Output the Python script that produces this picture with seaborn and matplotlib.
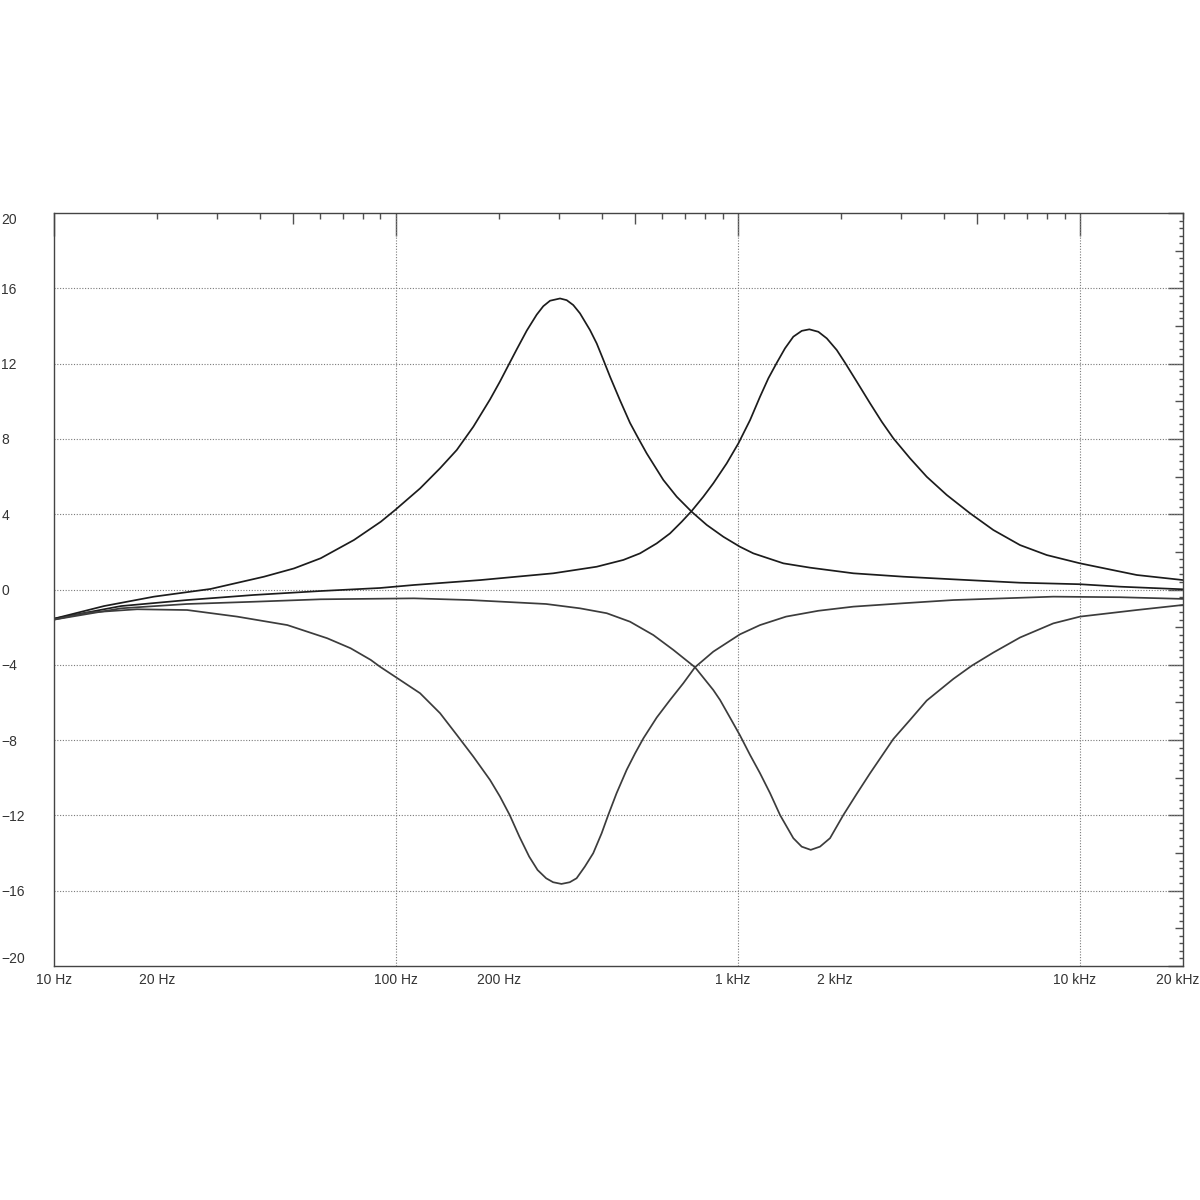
import numpy as np
import pandas as pd
import matplotlib
matplotlib.use("Agg")
import matplotlib.pyplot as plt
import matplotlib.ticker as mticker
from matplotlib.transforms import ScaledTranslation
import seaborn as sns

# values (frequency in Hz, gain in dB)
f_boost_300 = [10, 14.0, 19.6, 28.7, 41.1, 50.3, 60.2, 75.3, 90.2, 99.3,
               117.5, 134.4, 150.4, 168.2, 188.2, 201.2, 214.2, 225.1, 240.9, 257.6,
               269.3, 281.8, 301.4, 315.2, 329.5, 344.7, 368.8, 385.8, 401.8, 422.1,
               451.3, 482.7, 510.5, 540.1, 604, 661, 731, 809, 905, 1012,
               1107, 1355, 1622, 2171, 3039, 4254, 6664, 9980, 13060, 20000]
db_boost_300 = [-1.55, -0.88, -0.38, 0.03, 0.68, 1.12, 1.66, 2.63, 3.6, 4.22,
                5.37, 6.44, 7.41, 8.65, 10.1, 11.05, 12.0, 12.75, 13.75, 14.6,
                15.05, 15.34, 15.46, 15.37, 15.11, 14.67, 13.78, 13.07, 12.28, 11.3,
                10.05, 8.85, 8.03, 7.23, 5.82, 4.93, 4.13, 3.43, 2.8, 2.27,
                1.92, 1.39, 1.16, 0.86, 0.68, 0.54, 0.36, 0.28, 0.15, 0.01]

f_boost_1k6 = [10, 15.7, 24.5, 38.4, 60.2, 89.7, 112.8, 176, 288, 385.8,
               461.5, 516.4, 577.8, 631.9, 683.6, 731, 790.7, 845.6, 925.4, 1001,
               1083, 1158, 1225, 1296, 1370, 1449, 1534, 1614, 1715, 1815,
               1941, 2053, 2221, 2429, 2628, 2841, 3178, 3556, 4070, 4759,
               5568, 6664, 7976, 9980, 14620, 20000]
db_boost_1k6 = [-1.55, -0.88, -0.56, -0.29, -0.08, 0.08, 0.24, 0.5, 0.86, 1.21,
                1.57, 1.92, 2.45, 2.98, 3.6, 4.17, 4.93, 5.64, 6.7, 7.76,
                9.0, 10.24, 11.22, 12.04, 12.81, 13.43, 13.74, 13.82, 13.69, 13.34,
                12.72, 12.04, 11.04, 9.89, 8.91, 8.03, 6.97, 5.99, 5.02, 4.05,
                3.16, 2.36, 1.83, 1.39, 0.77, 0.5]

f_cut_300 = [10, 12.5, 17.5, 24.5, 34.3, 48.1, 62.9, 73.6, 84.3, 89.7,
             99.3, 117.5, 134.4, 150.4, 168.2, 188.2, 201.2, 214.8, 229.3, 244.9,
             259.1, 274.5, 287.7, 304.3, 321.8, 336.9, 356.2, 376.8, 398.8, 416.9,
             441, 472, 499.6, 528.4, 577.8, 631.9, 691, 747.6, 845.6, 1012,
             1158, 1380, 1715, 2171, 3039, 4254, 5955, 8335, 13060, 20000]
db_cut_300 = [-1.6, -1.23, -1.05, -1.09, -1.44, -1.89, -2.59, -3.12, -3.74, -4.1,
              -4.63, -5.51, -6.57, -7.72, -8.88, -10.12, -11.0, -11.98, -13.13, -14.19,
              -14.9, -15.34, -15.55, -15.64, -15.55, -15.34, -14.72, -14.01, -12.95, -11.98,
              -10.82, -9.58, -8.7, -7.9, -6.8, -5.87, -4.98, -4.13, -3.3, -2.38,
              -1.89, -1.44, -1.13, -0.91, -0.73, -0.56, -0.47, -0.38, -0.41, -0.5]

f_cut_1k6 = [10, 15.7, 24.5, 38.4, 60.2, 112.8, 164.4, 274.5, 344.7, 412.7,
             482.7, 564.8, 646.3, 747.6, 845.6, 885, 946, 1012, 1083, 1158,
             1239, 1325, 1449, 1533, 1629, 1734, 1855, 2029, 2221, 2429,
             2627, 2841, 3178, 3556, 4254, 4813, 5568, 6664, 8335, 9980,
             14620, 20000]
db_cut_1k6 = [-1.6, -1.0, -0.77, -0.65, -0.52, -0.47, -0.56, -0.77, -1.0, -1.26,
              -1.71, -2.42, -3.21, -4.13, -5.34, -5.87, -6.8, -7.75, -8.79, -9.76,
              -10.82, -11.98, -13.21, -13.66, -13.83, -13.66, -13.21, -11.98, -10.85, -9.76,
              -8.85, -7.94, -6.93, -5.9, -4.75, -4.05, -3.35, -2.55, -1.8, -1.44,
              -1.09, -0.82]

x_label_pos = [10, 20, 100, 200, 1000, 2000, 10000, 20000]
x_label_txt = ["10 Hz", "20 Hz", "100 Hz", "200 Hz", "1 kHz", "2 kHz", "10 kHz", "20 kHz"]
y_label_pos = [-20, -16, -12, -8, -4, 0, 4, 8, 12, 16, 20]

sns.set_style("white")
plt.rcParams["font.family"] = ["Liberation Sans", "DejaVu Sans"]

curves = pd.concat([
    pd.DataFrame({"freq": f_boost_300, "db": db_boost_300, "curve": "boost_300"}),
    pd.DataFrame({"freq": f_boost_1k6, "db": db_boost_1k6, "curve": "boost_1k6"}),
    pd.DataFrame({"freq": f_cut_300, "db": db_cut_300, "curve": "cut_300"}),
    pd.DataFrame({"freq": f_cut_1k6, "db": db_cut_1k6, "curve": "cut_1k6"}),
])
colors = {"boost_300": "#1c1c1c", "boost_1k6": "#1c1c1c", "cut_300": "#3c3c3c", "cut_1k6": "#3c3c3c"}

fig = plt.figure(figsize=(12, 12), dpi=100)
ax = fig.add_axes([0.045, 0.195, 0.9411, 0.6275])
ax.set_xscale("log")

for name, d in curves.groupby("curve", sort=False):
    sns.lineplot(data=d, x="freq", y="db", color=colors[name], lw=1.25,
                 sort=False, estimator=None, ax=ax)

ax.set_xlim(10, 20000)
ax.set_ylim(-20, 20)
ax.set_xlabel("")
ax.set_ylabel("")

# ticks: every 1..9 multiple on x, every 0.4 dB on y
xt = [m * 10 ** d for d in range(1, 5) for m in range(1, 10) if m * 10 ** d <= 20000]
yt = [round(v, 1) for v in np.arange(-20, 20.01, 0.4)]
ax.xaxis.set_major_locator(mticker.FixedLocator(xt))
ax.yaxis.set_major_locator(mticker.FixedLocator(yt))

def xfmt(v, pos):
    for p, t in zip(x_label_pos, x_label_txt):
        if abs(v - p) < 1e-6 * p:
            return t
    return ""

def yfmt(v, pos):
    for p in y_label_pos:
        if abs(v - p) < 1e-6:
            return f"{p}".replace("-", "\u2212")
    return ""

ax.xaxis.set_major_formatter(mticker.FuncFormatter(xfmt))
ax.yaxis.set_major_formatter(mticker.FuncFormatter(yfmt))

# grid lines through minor ticks (kept even where they sit on major ticks)
ax.xaxis.remove_overlapping_locs = False
ax.yaxis.remove_overlapping_locs = False
ax.xaxis.set_minor_locator(mticker.FixedLocator([100, 1000, 10000]))
ax.yaxis.set_minor_locator(mticker.FixedLocator([-16, -12, -8, -4, 0, 4, 8, 12, 16]))
ax.xaxis.set_minor_formatter(mticker.NullFormatter())
ax.yaxis.set_minor_formatter(mticker.NullFormatter())
ax.tick_params(which="minor", length=0)
ax.grid(False, which="major")
ax.grid(True, which="minor", color="#7a7a7a", lw=0.8, ls=(0, (1, 1.5)))
ax.set_axisbelow(True)

ax.tick_params(which="major", direction="in", top=True, right=True, color="#505050", width=1.0,
               labelsize=10, labelcolor="#333333")
ax.tick_params(axis="x", which="major", pad=5)
ax.tick_params(axis="y", which="major", pad=38)

shift_left = ScaledTranslation(-6 / 100, 0, fig.dpi_scale_trans)
for t, v in zip(ax.xaxis.get_major_ticks(len(xt)), xt):
    lead = v / 10 ** np.floor(np.log10(v) + 1e-9)
    if abs(lead - 1) < 1e-6:
        size = 16.5
    elif abs(lead - 5) < 1e-6:
        size = 8
    else:
        size = 4.3
    t.tick1line.set_markersize(size)
    t.tick2line.set_markersize(size)
    if v >= 1000:
        t.label1.set_transform(t.label1.get_transform() + shift_left)

for t, v in zip(ax.yaxis.get_major_ticks(len(yt)), yt):
    if abs(v / 4 - round(v / 4)) < 1e-6:
        size = 10.8
    elif abs(v / 2 - round(v / 2)) < 1e-6:
        size = 5.5
    else:
        size = 2.9
    t.tick1line.set_markersize(size)
    t.tick2line.set_markersize(size)
    t.label1.set_horizontalalignment("left")
    if v == 20:
        t.label1.set_verticalalignment("top")
    elif v == -20:
        t.label1.set_verticalalignment("bottom")

for s in ax.spines.values():
    s.set_color("#444444")
    s.set_linewidth(1.0)

fig.savefig("out.png", dpi=100, facecolor="white")
